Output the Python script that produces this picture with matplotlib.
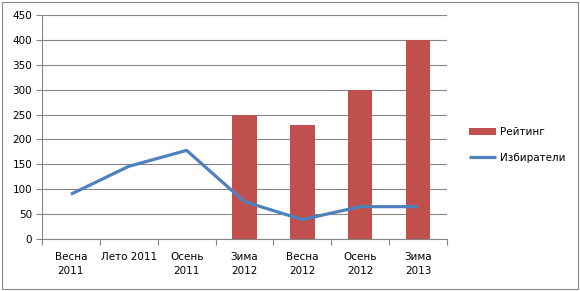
import matplotlib.pyplot as plt
import numpy as np
from matplotlib.patches import Rectangle

categories = ["Весна\n2011", "Лето 2011", "Осень\n2011", "Зима\n2012",
              "Весна\n2012", "Осень\n2012", "Зима\n2013"]
rating = [0, 0, 0, 250, 230, 300, 400]
voters = [90, 146, 178, 75, 39, 65, 65]

plt.rcParams['font.family'] = ['DejaVu Sans']
plt.rcParams['font.size'] = 7.5

fig = plt.figure(figsize=(5.8, 2.91), dpi=100)
ax = fig.add_axes([42 / 580, 52 / 291, 405 / 580, 224 / 291])

x = np.arange(len(categories))
bars_x = [i for i in x if rating[i] > 0]
b = ax.bar(bars_x, [rating[i] for i in bars_x], width=0.42, color='#C0504D',
           label='Рейтинг', zorder=2)
ln, = ax.plot(x, voters, color='#4F81BD', linewidth=2.3, label='Избиратели',
              zorder=3, solid_capstyle='butt')

ax.set_xlim(-0.5, len(categories) - 0.5)
ax.set_ylim(0, 450)
ax.set_yticks(np.arange(0, 451, 50))
ax.yaxis.grid(True, color='#868686', linewidth=0.8, zorder=0)
ax.set_axisbelow(True)

ax.set_xticks(x)
ax.set_xticklabels(categories, linespacing=1.5)
ax.set_xticks(np.arange(-0.5, len(categories), 1), minor=True)
ax.tick_params(axis='x', which='major', length=0, pad=9)
ax.tick_params(axis='x', which='minor', length=4, color='#868686', width=0.8)
ax.tick_params(axis='y', length=4, color='#868686', width=0.8, pad=3)

for side in ['top', 'right']:
    ax.spines[side].set_visible(False)
for side in ['left', 'bottom']:
    ax.spines[side].set_color('#868686')
    ax.spines[side].set_linewidth(0.8)

ax.legend([b, ln], ['Рейтинг', 'Избиратели'], loc='center left',
          bbox_to_anchor=(460 / 580, 146 / 291),
          bbox_transform=fig.transFigure, frameon=False, handlelength=2.6,
          handletextpad=0.3, labelspacing=1.5)

fig.patches.append(Rectangle((2 / 580, 2 / 291), 576 / 580, 287 / 291,
                             transform=fig.transFigure, fill=False,
                             edgecolor='#868686', linewidth=0.8))

fig.savefig('out.png', dpi=100)
